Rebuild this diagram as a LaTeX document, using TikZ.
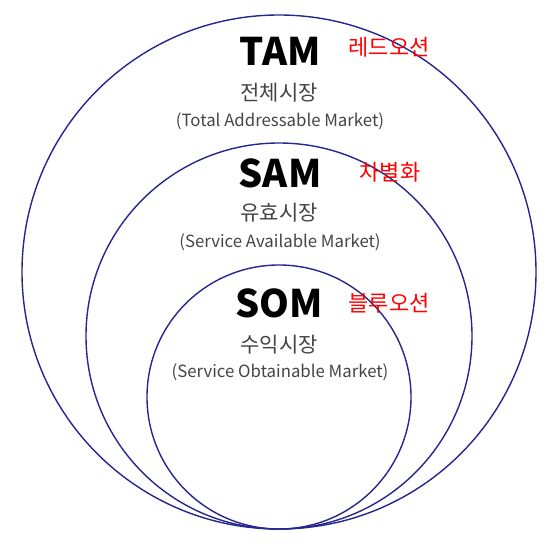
\documentclass[tikz,border=0pt]{standalone}
\usepackage{fontspec}
\newfontfamily\kr{Noto Sans CJK KR}
\definecolor{ringblue}{RGB}{38,38,142}
\definecolor{subgray}{RGB}{68,68,68}
\definecolor{redtxt}{RGB}{255,0,0}
\tikzset{
  ring/.style={draw=ringblue, line width=1.4pt},
  title/.style={inner sep=0pt, font={\kr\bfseries\fontsize{38}{40}\selectfont}, text=black},
  korsub/.style={inner sep=0pt, font={\kr\fontsize{21}{23}\selectfont}, text=subgray},
  engsub/.style={inner sep=0pt, font={\kr\fontsize{16.8}{19}\selectfont}, text=subgray},
  redlab/.style={inner sep=0pt, font={\kr\fontsize{22}{24}\selectfont}, text=redtxt}
}
\begin{document}
\begin{tikzpicture}[x=1pt,y=-1pt]
\useasboundingbox (0,0) rectangle (559,545);
\node[ring, circle, minimum size=514pt, inner sep=0pt] (tamc) at (279,272) {};
\node[ring, circle, minimum size=386pt, inner sep=0pt] (samc) at (279,336) {};
\node[ring, circle, minimum size=264pt, inner sep=0pt] (somc) at (279,397) {};
\node[title] (tam) at (280,51) {TAM};
\node[korsub] (tamk) at (279,93) {전체시장};
\node[engsub] (tame) at (280,121) {(Total Addressable Market)};
\node[redlab] (tamr) at (389,47) {레드오션};
\node[title] (sam) at (280,173) {SAM};
\node[korsub] (samk) at (279,213) {유효시장};
\node[engsub] (same) at (280,242) {(Service Available Market)};
\node[redlab] (samr) at (390,172) {차별화};
\node[title] (som) at (279,303) {SOM};
\node[korsub] (somk) at (279,345) {수익시장};
\node[engsub] (some) at (280,372) {(Service Obtainable Market)};
\node[redlab] (somr) at (389,303) {블루오션};
\end{tikzpicture}
\end{document}
